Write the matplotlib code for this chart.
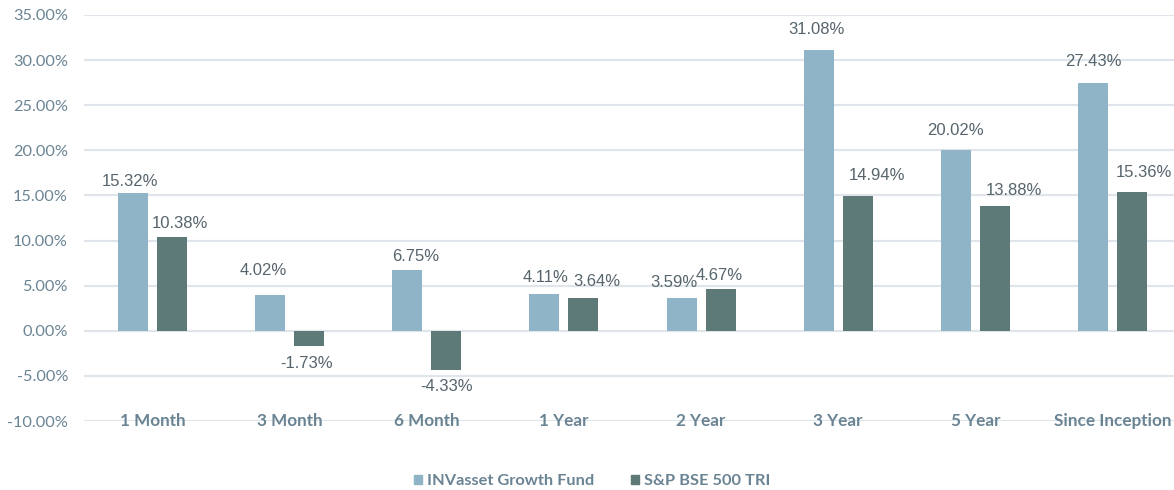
import matplotlib
matplotlib.use("Agg")
import matplotlib.pyplot as plt
import numpy as np
from matplotlib.patches import Patch

categories = ["1 Month", "3 Month", "6 Month", "1 Year", "2 Year", "3 Year", "5 Year", "Since Inception"]
fund = [15.32, 4.02, 6.75, 4.11, 3.59, 31.08, 20.02, 27.43]
index = [10.38, -1.73, -4.33, 3.64, 4.67, 14.94, 13.88, 15.36]
series_names = ["INVasset Growth Fund", "S&P BSE 500 TRI"]

# label offsets (pixels) from bar centre / bar end, as placed in the reference
fund_label_off = [(-3, 11), (-7, 24), (8, 13), (1, 16), (-8, 16), (-2, 21), (0, 20), (0, 22)]
index_label_off = [(8, 14), (-3, -17), (0, -17), (13, 16), (-1, 13), (19, 20), (19, 15), (12, 20)]

c_fund = "#8fb4c8"
c_index = "#5d7a78"
c_text = "#6a8494"
c_label = "#56646c"
c_grid = "#dfe5ea"

fig = plt.figure(figsize=(11.74, 4.90), dpi=100)
ax = fig.add_axes([84/1174, (490-421)/490, 1097/1174, 406/490])

x = np.arange(len(categories))
w = 0.219
off = 0.142
b1 = ax.bar(x - off, fund, w, color=c_fund, zorder=3)
b2 = ax.bar(x + off, index, w, color=c_index, zorder=3)

ax.set_xlim(-0.5, len(categories) - 0.5)
ax.set_ylim(-10, 35)
ax.set_yticks(np.arange(-10, 36, 5))
ax.set_yticklabels([f"{v:.2f}%" for v in np.arange(-10, 36, 5)],
                   fontsize=11.7, color=c_text, family="Lato")
ax.tick_params(axis="y", length=0, pad=11.5)
ax.set_xticks([])
for s in ax.spines.values():
    s.set_visible(False)
ax.grid(axis="y", color=c_grid, linewidth=1.6, zorder=0)

for bars, vals, offs in ((b1, fund, fund_label_off), (b2, index, index_label_off)):
    for rect, v, (dx, dy) in zip(bars, vals, offs):
        cx = rect.get_x() + rect.get_width() / 2
        ax.annotate(f"{v:.2f}%", (cx, v), xytext=(dx, dy), textcoords="offset pixels",
                    ha="center", va="center", fontsize=12, color=c_label,
                    family="Liberation Sans", zorder=4)

for i, c in enumerate(categories):
    ax.text(i, -10, c, ha="center", va="center", fontsize=12.3, fontweight="bold",
            color=c_text, family="Lato", zorder=4)

handles = [Patch(color=c_fund), Patch(color=c_index)]
leg = fig.legend(handles, series_names, loc="center", bbox_to_anchor=(0.5 + 5/1174, 9/490),
                 ncol=2, frameon=False, handlelength=0.5, handleheight=0.5,
                 handletextpad=0.3, columnspacing=2.25,
                 prop={"family": "Lato", "weight": "bold", "size": 11.8})
for t in leg.get_texts():
    t.set_color(c_text)

fig.savefig("out.png", dpi=100)
